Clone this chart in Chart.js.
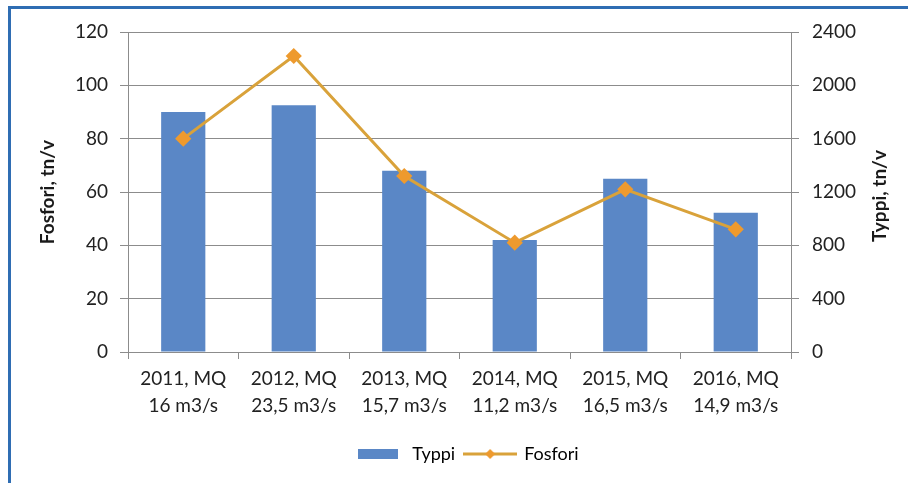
<!DOCTYPE html>
<html>
<head>
<meta charset="utf-8">
<script src="https://cdn.jsdelivr.net/npm/chart.js@4"></script>
<style>
    body { margin: 0; overflow: hidden; background: #fff; }
    #wrap { position: relative; width: 908px; height: 483px; overflow: hidden; }
    #frame {
        position: absolute; left: 8px; top: 6px; width: 960px; height: 540px;
        border-left: 3px solid #2F6DB3; border-top: 3px solid #2F6DB3;
        pointer-events: none;
    }
</style>
</head>
<body>
<div id="wrap">
    <canvas id="chart" width="908" height="483"></canvas>
    <div id="frame"></div>
</div>
<script>
// Chart data
const categories = [
    ['2011, MQ', '16 m3/s'],
    ['2012, MQ', '23,5 m3/s'],
    ['2013, MQ', '15,7 m3/s'],
    ['2014, MQ', '11,2 m3/s'],
    ['2015, MQ', '16,5 m3/s'],
    ['2016, MQ', '14,9 m3/s']
];
const typpi = [1800, 1850, 1360, 840, 1300, 1045];
const fosfori = [80, 111, 66, 41, 61, 46];
const leftTicks = [0, 20, 40, 60, 80, 100, 120];
const rightTicks = [0, 400, 800, 1200, 1600, 2000, 2400];

const BAR_COLOR = '#5A87C6';
const LINE_COLOR = '#D9A23A';
const POINT_COLOR = '#EE9A2E';
const GRID_COLOR = '#8C8C8C';
const FONT = 'Lato, "Open Sans", sans-serif';

// Legend swatches drawn on small canvases
function makeSwatch(kind) {
    const c = document.createElement('canvas');
    if (kind === 'bar') {
        c.width = 40; c.height = 10;
        const g = c.getContext('2d');
        g.fillStyle = BAR_COLOR;
        g.fillRect(0, 0, 40, 10);
    } else {
        c.width = 54; c.height = 12;
        const g = c.getContext('2d');
        g.strokeStyle = LINE_COLOR;
        g.lineWidth = 3;
        g.beginPath(); g.moveTo(0, 6); g.lineTo(54, 6); g.stroke();
        g.fillStyle = POINT_COLOR;
        g.beginPath(); g.moveTo(27, 1); g.lineTo(32, 6); g.lineTo(27, 11); g.lineTo(22, 6); g.closePath(); g.fill();
    }
    return c;
}

// Right axis title reads bottom-to-top like the left one
const rightTitle = {
    id: 'rightTitle',
    afterDraw(chart) {
        const ctx = chart.ctx;
        const area = chart.chartArea;
        ctx.save();
        ctx.translate(880, (area.top + area.bottom) / 2 + 4);
        ctx.rotate(-Math.PI / 2);
        ctx.font = 'bold 19px ' + FONT;
        ctx.fillStyle = '#1a1a1a';
        ctx.textAlign = 'center';
        ctx.textBaseline = 'middle';
        ctx.fillText('Typpi, tn/v', 0, 0);
        ctx.restore();
    }
};

new Chart(document.getElementById('chart'), {
    data: {
        labels: categories,
        datasets: [{
            type: 'bar',
            label: 'Typpi',
            data: typpi,
            yAxisID: 'y1',
            backgroundColor: BAR_COLOR,
            barPercentage: 0.4,
            categoryPercentage: 1,
            order: 1
        }, {
            type: 'line',
            label: 'Fosfori',
            data: fosfori,
            yAxisID: 'y',
            borderColor: LINE_COLOR,
            borderWidth: 3,
            tension: 0,
            pointStyle: 'rectRot',
            pointRadius: 6,
            pointBackgroundColor: POINT_COLOR,
            pointBorderColor: POINT_COLOR,
            order: 0
        }]
    },
    options: {
        responsive: false,
        animation: false,
        layout: {
            padding: { left: 24, right: 0, top: 32, bottom: 10 }
        },
        plugins: {
            tooltip: { enabled: false },
            legend: {
                position: 'bottom',
                labels: {
                    usePointStyle: true,
                    pointStyleWidth: 50,
                    padding: 10,
                    color: '#222',
                    font: { family: FONT, size: 18 },
                    generateLabels: function(chart) {
                        return chart.data.datasets.map(function(ds, i) {
                            return {
                                text: ds.label,
                                datasetIndex: i,
                                pointStyle: makeSwatch(ds.type),
                                fillStyle: 'transparent',
                                strokeStyle: 'transparent',
                                lineWidth: 0,
                                hidden: false
                            };
                        });
                    }
                }
            }
        },
        scales: {
            x: {
                offset: true,
                grid: {
                    offset: true,
                    drawOnChartArea: false,
                    drawTicks: true,
                    tickLength: 7,
                    color: GRID_COLOR
                },
                border: { display: true, color: GRID_COLOR },
                ticks: {
                    color: '#222',
                    padding: 7,
                    maxRotation: 0,
                    font: { family: FONT, size: 19, lineHeight: 1.4 }
                },
                afterFit: function(scale) { scale.height = 83; }
            },
            y: {
                position: 'left',
                min: 0,
                max: 120,
                afterBuildTicks: function(scale) {
                    scale.ticks = leftTicks.map(v => ({ value: v }));
                },
                grid: {
                    color: GRID_COLOR,
                    tickLength: 8,
                    drawTicks: true
                },
                border: { display: true, color: GRID_COLOR },
                ticks: {
                    color: '#222',
                    padding: 12,
                    font: { family: FONT, size: 19 }
                },
                title: {
                    display: true,
                    text: 'Fosfori, tn/v',
                    color: '#1a1a1a',
                    padding: { top: 12, bottom: 0 },
                    font: { family: FONT, size: 19, weight: 'bold' }
                },
                afterFit: function(scale) { scale.width = 104; }
            },
            y1: {
                position: 'right',
                min: 0,
                max: 2400,
                afterBuildTicks: function(scale) {
                    scale.ticks = rightTicks.map(v => ({ value: v }));
                },
                grid: {
                    drawOnChartArea: false,
                    color: GRID_COLOR,
                    tickLength: 8,
                    drawTicks: true
                },
                border: { display: true, color: GRID_COLOR },
                ticks: {
                    color: '#222',
                    padding: 13,
                    font: { family: FONT, size: 19 },
                    callback: function(value) { return String(value); }
                },
                afterFit: function(scale) { scale.width = 117; }
            }
        }
    },
    plugins: [rightTitle]
});
</script>
</body>
</html>
